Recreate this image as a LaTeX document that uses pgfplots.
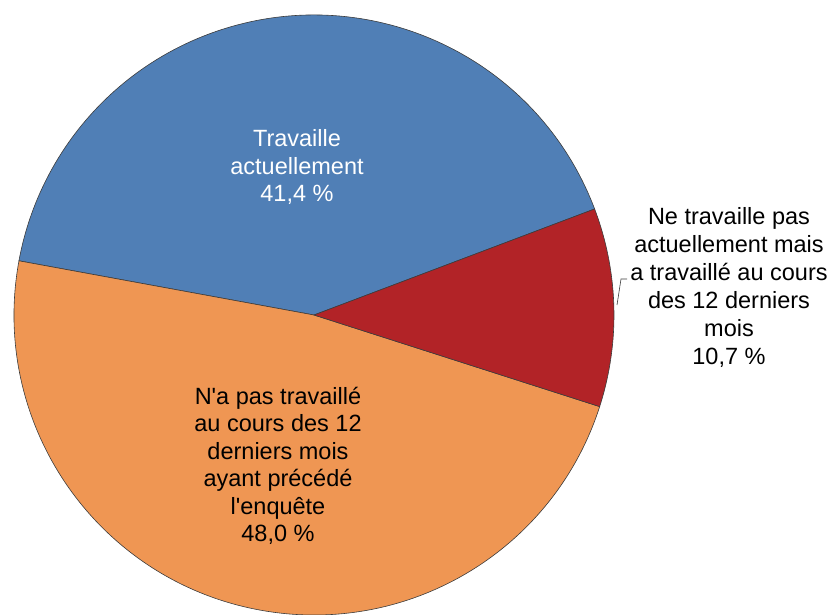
\documentclass[border=0pt]{standalone}
\usepackage{pgfplots}
\pgfplotsset{compat=1.18}
\usepackage{fontspec}
\setmainfont{Liberation Sans}
\newfontfamily\lsans{Liberation Sans}
\definecolor{cblue}{RGB}{80,127,182}
\definecolor{cred}{RGB}{178,35,39}
\definecolor{corange}{RGB}{239,150,83}
\definecolor{cedge}{RGB}{60,60,60}
\begin{document}
\begin{tikzpicture}
% values (%): Travaille actuellement, N'a pas travaillé..., Ne travaille pas actuellement mais...
\def\vA{41.4}\def\vB{48.0}\def\vC{10.7}
\pgfmathsetmacro\tot{\vA+\vB+\vC}
\pgfmathsetmacro\k{360/\tot}
\pgfmathsetmacro\aA{20.7}
\pgfmathsetmacro\aB{\aA+\k*\vA}
\pgfmathsetmacro\aC{\aB+\k*\vB}
\pgfmathsetmacro\aD{\aC+\k*\vC}
\def\R{300pt}
\begin{axis}[scale only axis, width=832pt, height=614pt,
  xmin=0, xmax=832, ymin=0, ymax=614, hide axis, clip=true]
\path (axis cs:0,0) rectangle (axis cs:832,614);
\filldraw[fill=cblue, draw=cedge, line width=0.6pt] (axis cs:314,299) -- ++(\aA:\R) arc[start angle=\aA, end angle=\aB, radius=\R] -- cycle;
\filldraw[fill=corange, draw=cedge, line width=0.6pt] (axis cs:314,299) -- ++(\aB:\R) arc[start angle=\aB, end angle=\aC, radius=\R] -- cycle;
\filldraw[fill=cred, draw=cedge, line width=0.6pt] (axis cs:314,299) -- ++(\aC:\R) arc[start angle=\aC, end angle=\aD, radius=\R] -- cycle;
\node[align=center, text=white, font=\lsans\fontsize{23.5}{27.5}\selectfont] at (axis cs:297,447) {Travaille\\actuellement\\41,4 \%};
\node[align=center, text=black, font=\lsans\fontsize{23.5}{27.5}\selectfont] at (axis cs:278,148) {N'a pas travaillé\\au cours des 12\\derniers mois\\ayant précédé\\l'enquête\\48,0 \%};
\node[align=center, text=black, font=\lsans\fontsize{23.5}{28}\selectfont] at (axis cs:729,327) {Ne travaille pas\\actuellement mais\\a travaillé au cours\\des 12 derniers\\mois\\10,7 \%};
\draw[cedge, line width=0.6pt] (axis cs:617,309) -- (axis cs:621,335) -- (axis cs:627,335);
\end{axis}
\end{tikzpicture}
\end{document}
